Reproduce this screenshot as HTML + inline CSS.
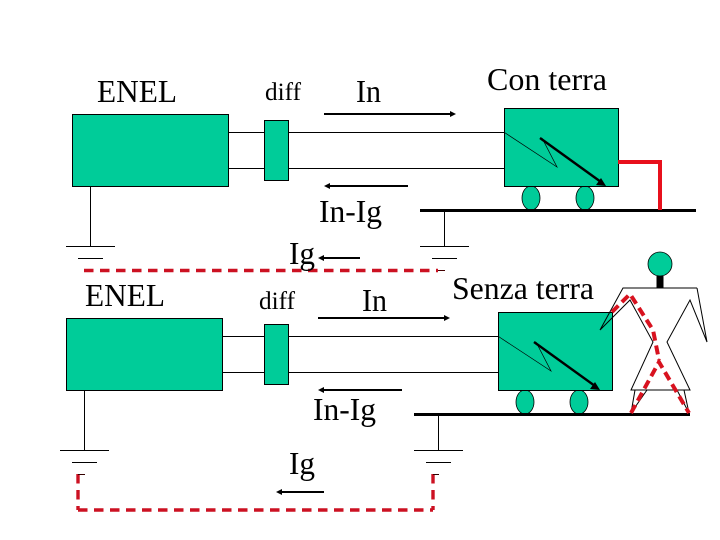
<!DOCTYPE html>
<html>
<head>
<meta charset="utf-8">
<style>
html,body{margin:0;padding:0;background:#fff;width:720px;height:540px;overflow:hidden}
svg{display:block}
text{font-family:"Liberation Serif",serif;fill:#000;font-size:32px}
text.s{font-size:25px}
</style>
</head>
<body>
<svg width="720" height="540" viewBox="0 0 720 540" xmlns="http://www.w3.org/2000/svg">
<defs>
<g id="g1">
  <line x1="228" y1="132.500" x2="504" y2="132.500" stroke="#000" stroke-width="1"/>
  <line x1="228" y1="168.500" x2="504" y2="168.500" stroke="#000" stroke-width="1"/>
</g>
<g id="cart">
  <ellipse cx="531" cy="198" rx="9" ry="12" fill="#00CC99" stroke="#000" stroke-width="0.8"/>
  <ellipse cx="585" cy="198" rx="9" ry="12" fill="#00CC99" stroke="#000" stroke-width="0.8"/>
  <rect x="504.500" y="108.500" width="114" height="78" fill="#00CC99" stroke="#000" stroke-width="1"/>
  <polyline points="504.500,132.500 557,167 542,138" fill="none" stroke="#000" stroke-width="0.7"/>
  <line x1="540" y1="138" x2="601" y2="182" stroke="#000" stroke-width="2.4"/>
  <polygon points="606,186 596,185 601,178" fill="#000"/>
</g>
</defs>

<!-- Top circuit -->
<use href="#g1"/>
<rect x="72.500" y="114.500" width="156" height="72" fill="#00CC99" stroke="#000" stroke-width="1"/>
<rect x="264.500" y="120.500" width="24" height="60" fill="#00CC99" stroke="#000" stroke-width="1"/>
<use href="#cart"/>
<line x1="90.500" y1="186" x2="90.500" y2="246" stroke="#000" stroke-width="1"/>
<line x1="66" y1="246.500" x2="115" y2="246.500" stroke="#000" stroke-width="1"/>
<line x1="78" y1="258.500" x2="103" y2="258.500" stroke="#000" stroke-width="1"/>
<line x1="420" y1="210.500" x2="696" y2="210.500" stroke="#000" stroke-width="3"/>
<line x1="444.500" y1="210" x2="444.500" y2="246" stroke="#000" stroke-width="1"/>
<line x1="420" y1="246.500" x2="469" y2="246.500" stroke="#000" stroke-width="1"/>
<line x1="432" y1="258.500" x2="457" y2="258.500" stroke="#000" stroke-width="1"/>
<polyline points="618,162 660,162 660,210" fill="none" stroke="#E8101C" stroke-width="4"/>

<line x1="324" y1="114" x2="452" y2="114" stroke="#000" stroke-width="2"/>
<polygon points="456,114 450,111 450,117" fill="#000"/>
<line x1="328" y1="186" x2="408" y2="186" stroke="#000" stroke-width="2"/>
<polygon points="324,186 330,183 330,189" fill="#000"/>
<line x1="322" y1="258" x2="360" y2="258" stroke="#000" stroke-width="2"/>
<polygon points="318,258 324,255 324,261" fill="#000"/>
<line x1="84" y1="270.500" x2="438" y2="270.500" stroke="#CC1122" stroke-width="3.400" stroke-dasharray="9.500 6.500"/>
<line x1="438" y1="270.500" x2="445" y2="270.500" stroke="#400" stroke-width="1"/>

<!-- Bottom circuit -->
<use href="#g1" transform="translate(-6,204)"/>
<rect x="66.500" y="318.500" width="156" height="72" fill="#00CC99" stroke="#000" stroke-width="1"/>
<rect x="264.500" y="324.500" width="24" height="60" fill="#00CC99" stroke="#000" stroke-width="1"/>
<use href="#cart" transform="translate(-6,204)"/>
<line x1="84.500" y1="390" x2="84.500" y2="450" stroke="#000" stroke-width="1"/>
<line x1="60" y1="450.500" x2="109" y2="450.500" stroke="#000" stroke-width="1"/>
<line x1="72" y1="462.500" x2="97" y2="462.500" stroke="#000" stroke-width="1"/>
<line x1="414" y1="414.500" x2="690" y2="414.500" stroke="#000" stroke-width="3"/>
<line x1="438.500" y1="414" x2="438.500" y2="450" stroke="#000" stroke-width="1"/>
<line x1="414" y1="450.500" x2="463" y2="450.500" stroke="#000" stroke-width="1"/>
<line x1="426" y1="462.500" x2="451" y2="462.500" stroke="#000" stroke-width="1"/>

<line x1="318" y1="318" x2="446" y2="318" stroke="#000" stroke-width="2"/>
<polygon points="450,318 444,315 444,321" fill="#000"/>
<line x1="322" y1="390" x2="402" y2="390" stroke="#000" stroke-width="2"/>
<polygon points="318,390 324,387 324,393" fill="#000"/>
<line x1="280" y1="492" x2="324" y2="492" stroke="#000" stroke-width="2"/>
<polygon points="276,492 282,489 282,495" fill="#000"/>

<polyline points="78,474 78,510" fill="none" stroke="#CC1122" stroke-width="3.400" stroke-dasharray="9.500 6.500"/>
<polyline points="78,510 433,510" fill="none" stroke="#CC1122" stroke-width="3.400" stroke-dasharray="9.500 6.500"/>
<polyline points="433,474 433,510" fill="none" stroke="#CC1122" stroke-width="3.400" stroke-dasharray="9.500 6.500"/>
<line x1="78" y1="474.500" x2="85" y2="474.500" stroke="#300" stroke-width="1"/>
<line x1="433" y1="474.500" x2="439" y2="474.500" stroke="#300" stroke-width="1"/>

<!-- Person -->
<line x1="660" y1="276" x2="660" y2="288" stroke="#000" stroke-width="7"/>
<circle cx="660" cy="264" r="12" fill="#00CC99" stroke="#000" stroke-width="0.8"/>
<polyline points="697,288 623,288 600,330 630,300 653,342 631,390 690,390 667,342 690,300 707,342 697,288" fill="none" stroke="#000" stroke-width="1"/>
<polyline points="635,390 631,413 647,390" fill="none" stroke="#000" stroke-width="1"/>
<polyline points="677,390 689,413 684,390" fill="none" stroke="#000" stroke-width="1"/>
<polyline points="612,312 630,294 653,330 659,360" fill="none" stroke="#D8121F" stroke-width="4" stroke-dasharray="9 5"/>
<polyline points="631,413 659,362 689,413" fill="none" stroke="#D8121F" stroke-width="4" stroke-dasharray="9 5"/>

<!-- Labels -->
<text x="97" y="102" textLength="80" lengthAdjust="spacingAndGlyphs">ENEL</text>
<text class="s" x="265" y="100" textLength="36" lengthAdjust="spacingAndGlyphs">diff</text>
<text x="356" y="102" textLength="25" lengthAdjust="spacingAndGlyphs">In</text>
<text x="487" y="90" textLength="120" lengthAdjust="spacingAndGlyphs">Con terra</text>
<text x="319" y="222" textLength="63" lengthAdjust="spacingAndGlyphs">In-Ig</text>
<text x="289" y="264" textLength="26" lengthAdjust="spacingAndGlyphs">Ig</text>
<text x="85" y="306" textLength="80" lengthAdjust="spacingAndGlyphs">ENEL</text>
<text class="s" x="259" y="309" textLength="36" lengthAdjust="spacingAndGlyphs">diff</text>
<text x="362" y="311" textLength="25" lengthAdjust="spacingAndGlyphs">In</text>
<text x="452" y="299" textLength="142" lengthAdjust="spacingAndGlyphs">Senza terra</text>
<text x="313" y="420" textLength="63" lengthAdjust="spacingAndGlyphs">In-Ig</text>
<text x="289" y="474" textLength="26" lengthAdjust="spacingAndGlyphs">Ig</text>
</svg>
</body>
</html>
